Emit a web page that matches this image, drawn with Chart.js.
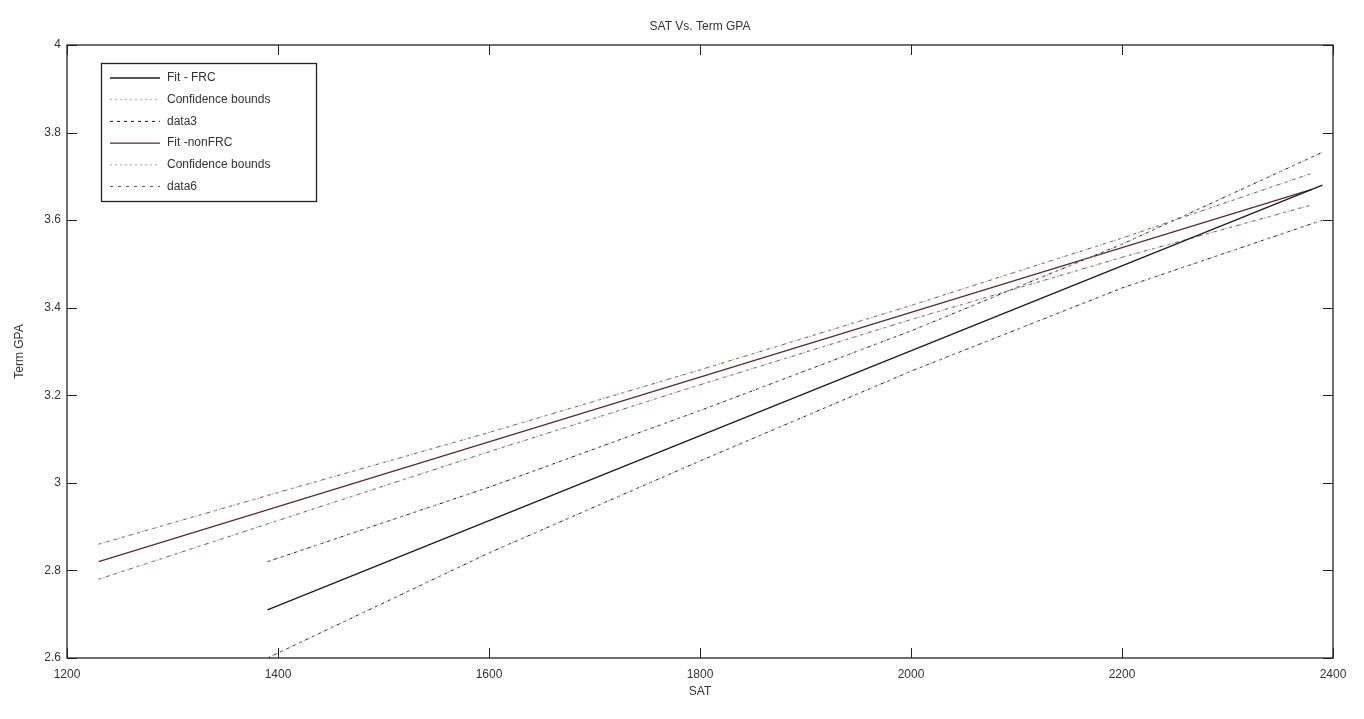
<!DOCTYPE html>
<html>
<head>
<meta charset="utf-8">
<script src="https://cdn.jsdelivr.net/npm/chart.js@4/dist/chart.umd.min.js"></script>
<style>
  html, body { margin: 0; padding: 0; background: #fff; }
  #wrap { width: 1364px; height: 719px; }
</style>
</head>
<body>
<div id="wrap"><canvas id="c" width="1364" height="719"></canvas></div>
<script>
// FRC group: fitted line (ends) and confidence bounds sampled along SAT
const frcFitSat = [1390, 2390];
const frcFit = [2.71, 3.68];
const frcBoundSat = [1390, 1600, 1800, 2000, 2200, 2390];
const frcUpper = [2.82, 2.99, 3.165, 3.347, 3.545, 3.755];
const frcLower = [2.60, 2.84, 3.05, 3.255, 3.445, 3.60];

// non-FRC group: fitted line (ends) and confidence bounds
const nonFrcFitSat = [1230, 2380];
const nonFrcFit = [2.82, 3.67];
const nonFrcBoundSat = [1230, 1400, 1600, 1800, 2000, 2200, 2380];
const nonFrcUpper = [2.86, 2.978, 3.115, 3.258, 3.405, 3.559, 3.707];
const nonFrcLower = [2.78, 2.914, 3.071, 3.224, 3.373, 3.515, 3.635];

// axis ticks
const satTicks = [1200, 1400, 1600, 1800, 2000, 2200, 2400];
const gpaTicks = [2.6, 2.8, 3.0, 3.2, 3.4, 3.6, 3.8, 4.0];

const legendLabels = ['Fit - FRC', 'Confidence bounds', 'data3', 'Fit -nonFRC', 'Confidence bounds', 'data6'];

function line(xs, ys) {
  return xs.map((x, i) => ({ x: x, y: ys[i] }));
}
function pair(xs, up, lo) {
  // upper and lower curves in one dataset, split by a gap
  return line(xs, up).concat([{ x: NaN, y: null }], line(xs, lo));
}

const FONT = '"Liberation Sans", Arial, sans-serif';

const datasets = [
  { label: legendLabels[0], data: line(frcFitSat, frcFit), borderColor: '#1a1a1a', borderWidth: 1.3, borderDash: [] },
  { label: legendLabels[1], data: pair(frcBoundSat, frcUpper, frcLower), borderColor: '#a8a8a8', borderWidth: 1, borderDash: [2, 3] },
  { label: legendLabels[2], data: pair(frcBoundSat, frcUpper, frcLower), borderColor: '#1a1a1a', borderWidth: 1, borderDash: [3, 4] },
  { label: legendLabels[3], data: line(nonFrcFitSat, nonFrcFit), borderColor: '#5a2a2a', borderWidth: 1.3, borderDash: [] },
  { label: legendLabels[4], data: pair(nonFrcBoundSat, nonFrcUpper, nonFrcLower), borderColor: '#c09a9a', borderWidth: 1, borderDash: [2, 3] },
  { label: legendLabels[5], data: pair(nonFrcBoundSat, nonFrcUpper, nonFrcLower), borderColor: '#555555', borderWidth: 1, borderDash: [3, 5] }
];
datasets.forEach(d => { d.pointRadius = 0; d.fill = false; d.tension = 0; d.spanGaps = false; });

// box, inward ticks, title and legend in the MATLAB figure style
const figurePlugin = {
  id: 'figure',
  afterDatasetsDraw(chart) {
    const ctx = chart.ctx;
    const a = chart.chartArea;
    const xs = chart.scales.x, ys = chart.scales.y;
    ctx.save();
    ctx.strokeStyle = '#222';
    ctx.lineWidth = 1.3;
    ctx.strokeRect(a.left, a.top, a.right - a.left, a.bottom - a.top);
    const tl = 10;
    ctx.lineWidth = 1;
    satTicks.forEach(v => {
      const p = Math.round(xs.getPixelForValue(v)) + 0.5;
      ctx.beginPath();
      ctx.moveTo(p, a.bottom); ctx.lineTo(p, a.bottom - tl);
      ctx.moveTo(p, a.top); ctx.lineTo(p, a.top + tl);
      ctx.stroke();
    });
    gpaTicks.forEach(v => {
      const p = Math.round(ys.getPixelForValue(v)) + 0.5;
      ctx.beginPath();
      ctx.moveTo(a.left, p); ctx.lineTo(a.left + tl, p);
      ctx.moveTo(a.right, p); ctx.lineTo(a.right - tl, p);
      ctx.stroke();
    });

    // title
    ctx.fillStyle = '#333';
    ctx.font = '12px ' + FONT;
    ctx.textAlign = 'center';
    ctx.textBaseline = 'middle';
    ctx.fillText('SAT Vs. Term GPA', (a.left + a.right) / 2, 27);

    // legend
    const lx = 101, ly = 63, lw = 215, lh = 138;
    ctx.fillStyle = '#fff';
    ctx.fillRect(lx, ly, lw, lh);
    ctx.strokeStyle = '#222';
    ctx.lineWidth = 1.3;
    ctx.strokeRect(lx + 0.5, ly + 0.5, lw, lh);
    chart.data.datasets.forEach((d, i) => {
      const y = ly + 15 + i * 21.7;
      ctx.strokeStyle = d.borderColor;
      ctx.lineWidth = d.borderWidth;
      ctx.setLineDash(d.borderDash);
      ctx.beginPath();
      ctx.moveTo(110, y); ctx.lineTo(160, y);
      ctx.stroke();
      ctx.setLineDash([]);
      ctx.fillStyle = '#333';
      ctx.textAlign = 'left';
      ctx.fillText(d.label, 167, y);
    });
    ctx.restore();
  }
};

new Chart(document.getElementById('c'), {
  type: 'line',
  data: { datasets: datasets },
  options: {
    responsive: false,
    animation: false,
    layout: { padding: { top: 45, right: 31, left: 0, bottom: 20 } },
    plugins: { legend: { display: false }, tooltip: { enabled: false }, title: { display: false } },
    scales: {
      x: {
        type: 'linear',
        min: satTicks[0], max: satTicks[satTicks.length - 1],
        afterBuildTicks(s) { s.ticks = satTicks.map(v => ({ value: v })); },
        afterFit(s) { s.height = 41; },
        ticks: { color: '#333', font: { family: FONT, size: 12 }, padding: 9, maxRotation: 0,
                 callback: v => String(v) },
        grid: { display: false, drawTicks: false },
        border: { display: false },
        title: { display: true, text: 'SAT', color: '#333', font: { family: FONT, size: 12 }, padding: { top: 4, bottom: 0 } }
      },
      y: {
        type: 'linear',
        min: gpaTicks[0], max: gpaTicks[gpaTicks.length - 1],
        afterBuildTicks(s) { s.ticks = gpaTicks.map(v => ({ value: v })); },
        afterFit(s) { s.width = 67; },
        ticks: { color: '#333', font: { family: FONT, size: 12 }, padding: 6,
                 callback: v => String(Math.round(v * 10) / 10) },
        grid: { display: false, drawTicks: false },
        border: { display: false },
        title: { display: true, text: 'Term GPA', color: '#333', font: { family: FONT, size: 12 }, padding: { top: 12, bottom: 0 } }
      }
    }
  },
  plugins: [figurePlugin]
});
</script>
</body>
</html>
